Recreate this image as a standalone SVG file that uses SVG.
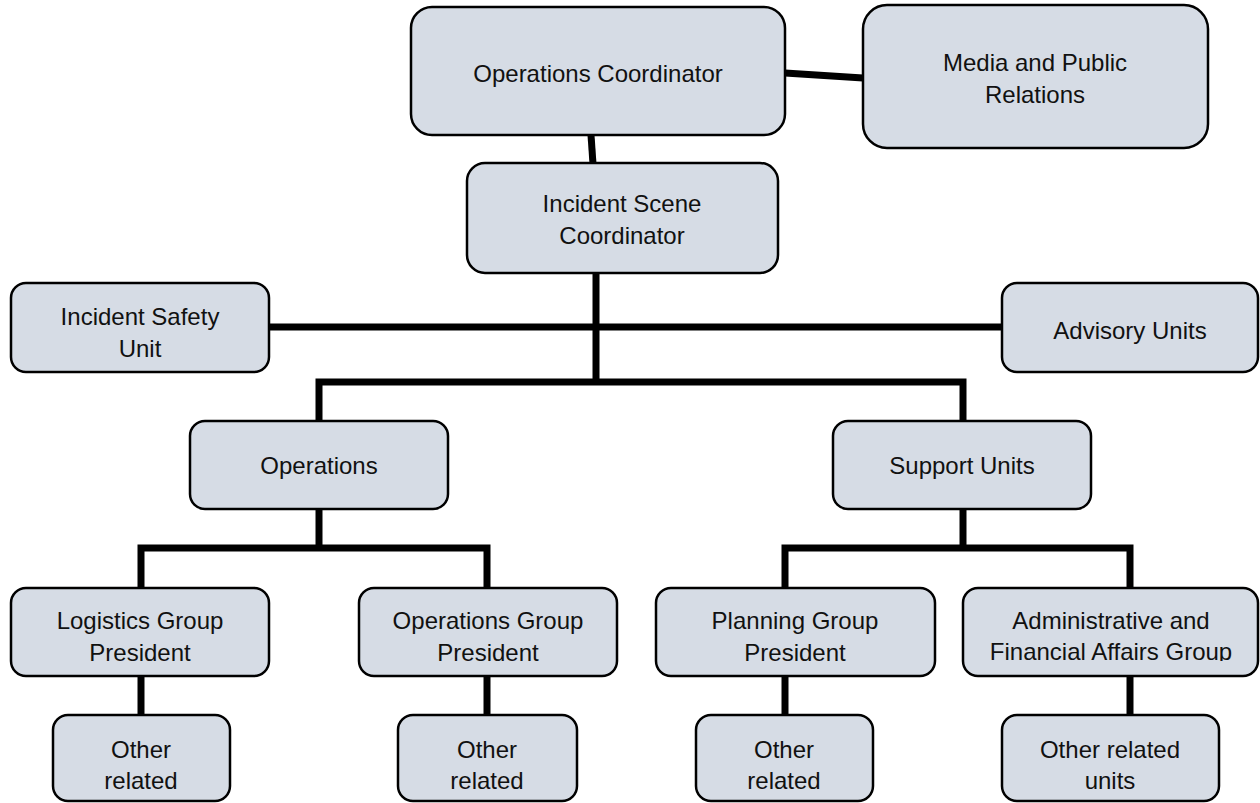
<svg xmlns="http://www.w3.org/2000/svg" width="1260" height="803" viewBox="0 0 1260 803">
<style>
.box{fill:#D6DCE5;stroke:#000;stroke-width:2.5}
.lbl{font-family:"Liberation Sans",Arial,sans-serif;font-size:24px;fill:#111;text-anchor:middle}
.con{stroke:#000;stroke-width:7;fill:none;stroke-linecap:butt;stroke-linejoin:miter}
</style>
<defs>
<clipPath id="clipAdmin"><rect x="963" y="588" width="296" height="73"/></clipPath>
</defs>
<rect width="1260" height="803" fill="#fff"/>
<g id="connectors">
<line class="con" x1="785" y1="73" x2="863" y2="78"/>
<line class="con" x1="591" y1="135" x2="593" y2="164"/>
<line class="con" x1="596" y1="272" x2="596" y2="385"/>
<line class="con" x1="269" y1="327" x2="1002" y2="327"/>
<polyline class="con" points="319,421 319,382 963,382 963,421"/>
<polyline class="con" points="319,509 319,548"/>
<polyline class="con" points="141,588 141,548 487,548 487,588"/>
<polyline class="con" points="963,509 963,548"/>
<polyline class="con" points="785,588 785,548 1130,548 1130,588"/>
<line class="con" x1="141" y1="676" x2="141" y2="715"/>
<line class="con" x1="487" y1="676" x2="487" y2="715"/>
<line class="con" x1="785" y1="676" x2="785" y2="715"/>
<line class="con" x1="1130" y1="676" x2="1130" y2="715"/>
</g>
<g id="n-opcoord"><rect class="box" x="411" y="7" width="374" height="128" rx="21"/><text class="lbl" x="598" y="82">Operations Coordinator</text></g>
<g id="n-media"><rect class="box" x="863" y="5" width="345" height="143" rx="24"/><text class="lbl" x="1035" y="71">Media and Public</text><text class="lbl" x="1035" y="103">Relations</text></g>
<g id="n-isc"><rect class="box" x="467" y="163" width="311" height="110" rx="18"/><text class="lbl" x="622" y="212">Incident Scene</text><text class="lbl" x="622" y="244">Coordinator</text></g>
<g id="n-isu"><rect class="box" x="11" y="283" width="258" height="89" rx="15"/><text class="lbl" x="140" y="325">Incident Safety</text><text class="lbl" x="140" y="357">Unit</text></g>
<g id="n-advisory"><rect class="box" x="1002" y="283" width="256" height="89" rx="15"/><text class="lbl" x="1130" y="339">Advisory Units</text></g>
<g id="n-operations"><rect class="box" x="190" y="421" width="258" height="88" rx="15"/><text class="lbl" x="319" y="474">Operations</text></g>
<g id="n-support"><rect class="box" x="833" y="421" width="258" height="88" rx="15"/><text class="lbl" x="962" y="474">Support Units</text></g>
<g id="n-logistics"><rect class="box" x="11" y="588" width="258" height="88" rx="15"/><text class="lbl" x="140" y="629">Logistics Group</text><text class="lbl" x="140" y="661">President</text></g>
<g id="n-opsgroup"><rect class="box" x="359" y="588" width="258" height="88" rx="15"/><text class="lbl" x="488" y="629">Operations Group</text><text class="lbl" x="488" y="661">President</text></g>
<g id="n-planning"><rect class="box" x="656" y="588" width="279" height="88" rx="15"/><text class="lbl" x="795" y="629">Planning Group</text><text class="lbl" x="795" y="661">President</text></g>
<g id="n-admin"><rect class="box" x="963" y="588" width="295" height="88" rx="15"/><text class="lbl" x="1111" y="629">Administrative and</text><text class="lbl" x="1111" y="660" clip-path="url(#clipAdmin)">Financial Affairs Group</text></g>
<g id="n-other1"><rect class="box" x="53" y="715" width="177" height="86" rx="15"/><text class="lbl" x="141" y="758">Other</text><text class="lbl" x="141" y="789">related</text></g>
<g id="n-other2"><rect class="box" x="398" y="715" width="179" height="86" rx="15"/><text class="lbl" x="487" y="758">Other</text><text class="lbl" x="487" y="789">related</text></g>
<g id="n-other3"><rect class="box" x="696" y="715" width="177" height="86" rx="15"/><text class="lbl" x="784" y="758">Other</text><text class="lbl" x="784" y="789">related</text></g>
<g id="n-other4"><rect class="box" x="1002" y="715" width="217" height="86" rx="15"/><text class="lbl" x="1110" y="758">Other related</text><text class="lbl" x="1110" y="789">units</text></g>
</svg>
